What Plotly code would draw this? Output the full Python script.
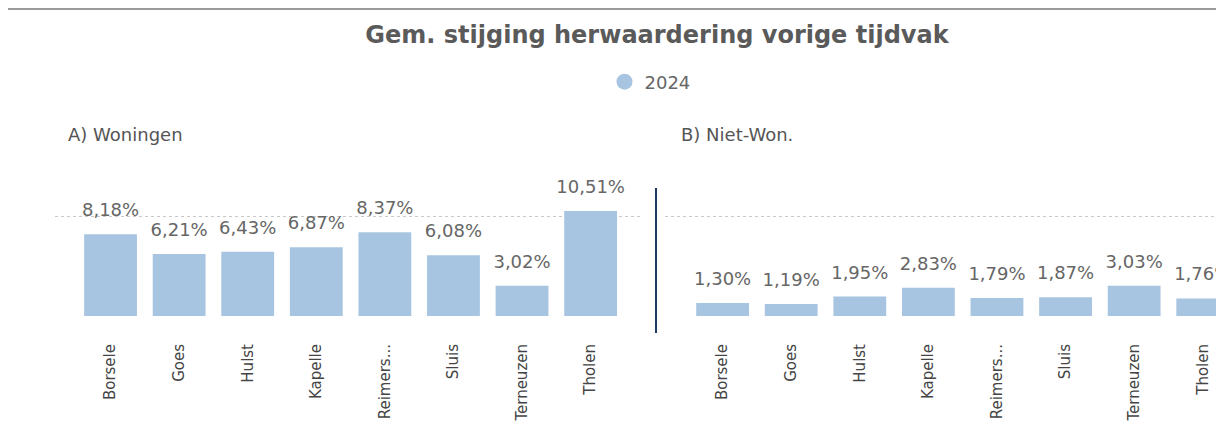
import plotly.graph_objects as go

categories = ["Borsele", "Goes", "Hulst", "Kapelle", "Reimers...", "Sluis", "Terneuzen", "Tholen"]
woningen_2024 = [8.18, 6.21, 6.43, 6.87, 8.37, 6.08, 3.02, 10.51]
niet_won_2024 = [1.30, 1.19, 1.95, 2.83, 1.79, 1.87, 3.03, 1.76]
series_name = "2024"
title_text = "Gem. stijging herwaardering vorige tijdvak"
panel_titles = ["A) Woningen", "B) Niet-Won."]

# the page adds an 8px body margin, so the figure is placed 8px in and down
OFF = 8
W, H = 1224 - OFF, 425 - OFF
BAR = "#A7C4E0"
FONT = "DejaVu Sans, sans-serif"

px = lambda x: (x - OFF) / W          # reference-pixel x -> paper
py = lambda y: 1 - (y - OFF) / H      # reference-pixel y -> paper

fig = go.Figure()

bar_style = dict(marker=dict(color=BAR, line=dict(width=0)), showlegend=False,
                 hoverinfo="x+y", textposition="none")
lab_style = dict(mode="markers+text", texttemplate="%{y:.2f}%", textposition="top center",
                 marker=dict(size=20, color="rgba(0,0,0,0)"),
                 textfont=dict(family=FONT, size=18, color="#666666"),
                 cliponaxis=False, showlegend=False, hoverinfo="skip")

fig.add_trace(go.Bar(x=categories, y=woningen_2024, name=series_name, xaxis="x", yaxis="y", **bar_style))
fig.add_trace(go.Bar(x=categories, y=niet_won_2024, name=series_name, xaxis="x2", yaxis="y2", **bar_style))
fig.add_trace(go.Scatter(x=categories, y=woningen_2024, xaxis="x", yaxis="y", **lab_style))
fig.add_trace(go.Scatter(x=categories, y=niet_won_2024, xaxis="x2", yaxis="y2", **lab_style))
# legend entry with round marker
fig.add_trace(go.Scatter(x=[None], y=[None], mode="markers", name=series_name,
                         marker=dict(color=BAR, size=16, symbol="circle"), showlegend=True,
                         xaxis="x", yaxis="y"))

top_plot, bot_plot = 176, 316

xcommon = dict(
    type="category",
    showgrid=False, zeroline=False, showline=False,
    tickangle=-90,
    ticks="",
    ticklabelstandoff=24,
    tickfont=dict(family=FONT, size=15, color="#444444"),
)
ycommon = dict(
    domain=[py(bot_plot), py(top_plot)],
    range=[0, 14],
    dtick=10,
    showgrid=True,
    gridcolor="#C8C8C8",
    griddash="dot",
    gridwidth=1,
    zeroline=False,
    showticklabels=False,
    showline=False,
)

fig.update_layout(
    width=W, height=H,
    margin=dict(l=0, r=0, t=0, b=0, pad=0),
    paper_bgcolor="white", plot_bgcolor="white",
    separators=",.",
    bargap=0.23,
    xaxis=dict(domain=[px(55), px(640)], range=[-0.81, 7.72], anchor="y", **xcommon),
    xaxis2=dict(domain=[px(665), 1.0], range=[-0.84, 7.31], anchor="y2", **xcommon),
    yaxis=dict(anchor="x", **ycommon),
    yaxis2=dict(anchor="x2", **ycommon),
    title=dict(text=title_text, x=px(657), xanchor="center", y=py(35), yanchor="middle",
               font=dict(family=FONT, size=24, weight="bold", color="#5A5A5A")),
    legend=dict(orientation="h", x=px(650), xanchor="center", y=py(82), yanchor="middle",
                font=dict(family=FONT, size=18, color="#666666"),
                itemwidth=30, bgcolor="rgba(0,0,0,0)"),
    showlegend=True,
)

# panel subtitles
for txt, xr in zip(panel_titles, [66, 679]):
    fig.add_annotation(text=txt, xref="paper", yref="paper", x=px(xr), y=py(134),
                       xanchor="left", yanchor="middle", showarrow=False,
                       font=dict(family=FONT, size=18, color="#555555"))

# top rule and panel separator
fig.add_shape(type="line", xref="paper", yref="paper", x0=px(8), x1=1.0, y0=py(9), y1=py(9),
              line=dict(color="#9A9A9A", width=2))
fig.add_shape(type="line", xref="paper", yref="paper", x0=px(656), x1=px(656), y0=py(188), y1=py(333),
              line=dict(color="#1F3A64", width=2))

fig.write_html("out.html")
